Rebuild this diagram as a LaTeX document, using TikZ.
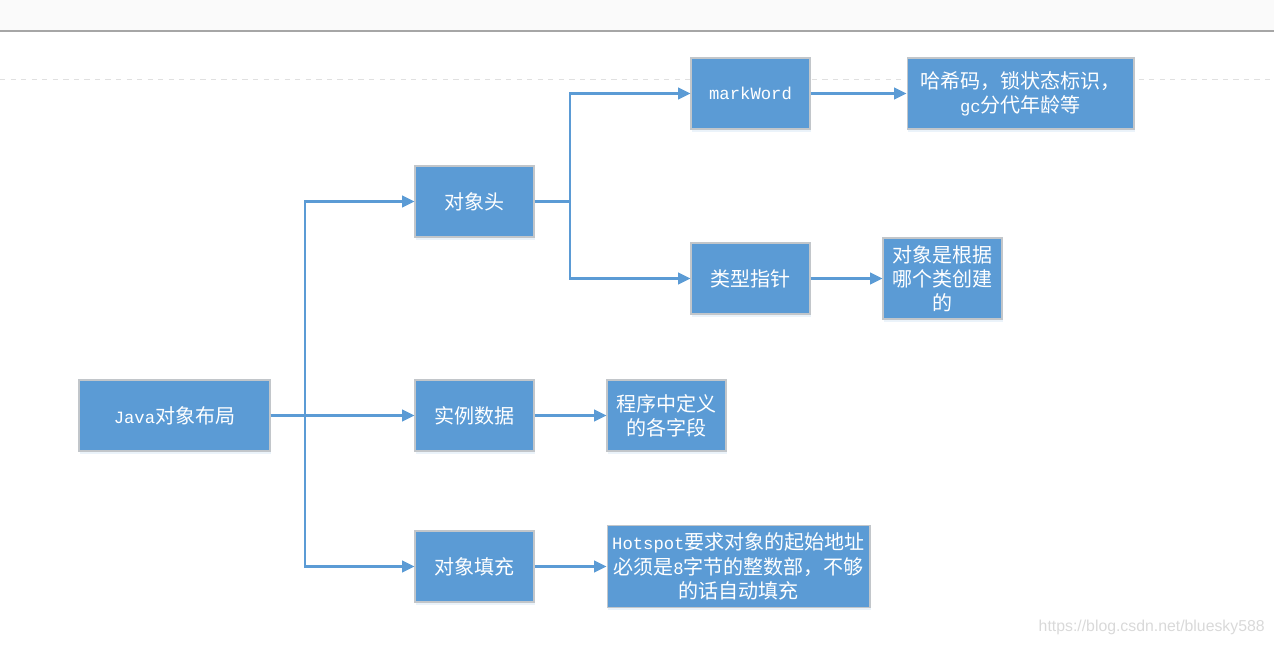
\documentclass[tikz,border=0pt]{standalone}
\usepackage{fontspec}
\newfontfamily\cjk{Noto Sans CJK SC}
\newfontfamily\mono[Scale=0.86]{Liberation Mono}
\newfontfamily\wmfont{Liberation Sans}
\usetikzlibrary{arrows.meta, shadows}
\definecolor{boxblue}{HTML}{5B9BD5}
\definecolor{boxedge}{HTML}{C2C6CA}
\definecolor{lineblue}{HTML}{5B9BD5}

\tikzset{
  box/.style={draw=boxedge, line width=0.6pt, fill=boxblue, text=white,
    inner sep=0pt, align=center, minimum width=2.38cm, minimum height=1.42cm,
    font=\cjk\fontsize{11.4}{13.8}\selectfont,
    drop shadow={opacity=0.12, shadow xshift=0.5pt, shadow yshift=-1.5pt, fill=boxblue}},
  conn/.style={draw=lineblue, line width=1.3pt, ->}
}

\begin{document}
\begin{tikzpicture}[x=0.02cm, y=-0.02cm, >={Triangle[length=7pt,width=6.5pt]}]
  \useasboundingbox (0,0) rectangle (1274,645);
  % page strip at the top
  \fill[black!2] (0,0) rectangle (1274,31);
  \draw[black!35, line width=0.8pt] (0,31) -- (1274,31);
  \draw[black!12, dashed, line width=0.5pt] (0,79) -- (1274,79);

  % boxes
  \node[box, minimum width=3.82cm] (layout) at (174.5,415.5) {{\mono Java}对象布局};
  \node[box] (header) at (474.5,201.5) {对象头};
  \node[box] (instance) at (474.5,415.5) {实例数据};
  \node[box] (padding) at (474.5,566.5) {对象填充};
  \node[box] (markword) at (750.5,93.5) {{\mono markWord}};
  \node[box, minimum width=4.54cm] (markinfo) at (1020.5,93.5) {哈希码，锁状态标识，\\{\mono gc}分代年龄等};
  \node[box] (klass) at (750.5,278.5) {类型指针};
  \node[box, minimum height=1.62cm] (klassinfo) at (942.5,278.5) {对象是根据\\哪个类创建\\的};
  \node[box] (fields) at (666.5,415.5) {程序中定义\\的各字段};
  \node[box, minimum width=5.26cm, minimum height=1.64cm] (padinfo) at (738.5,566.5) {{\mono Hotspot}要求对象的起始地址\\必须是{\mono 8}字节的整数部，不够\\的话自动填充};

  % branch points
  \coordinate (split1) at (305,415.5);
  \coordinate (split2) at (570,201.5);

  % connectors
  \draw[conn] (layout.east) -- (split1) |- (header.west);
  \draw[conn] (layout.east) -- (instance.west);
  \draw[conn] (split1) |- (padding.west);
  \draw[conn] (header.east) -- (split2) |- (markword.west);
  \draw[conn] (split2) |- (klass.west);
  \draw[conn] (markword) -- (markinfo);
  \draw[conn] (klass) -- (klassinfo);
  \draw[conn] (instance) -- (fields);
  \draw[conn] (padding) -- (padinfo);

  % watermark
  \node[anchor=east, inner sep=0pt, text=black!15, font=\wmfont\fontsize{9}{11}\selectfont] (mark) at (1265,627) {https://blog.csdn.net/bluesky588};
\end{tikzpicture}
\end{document}
